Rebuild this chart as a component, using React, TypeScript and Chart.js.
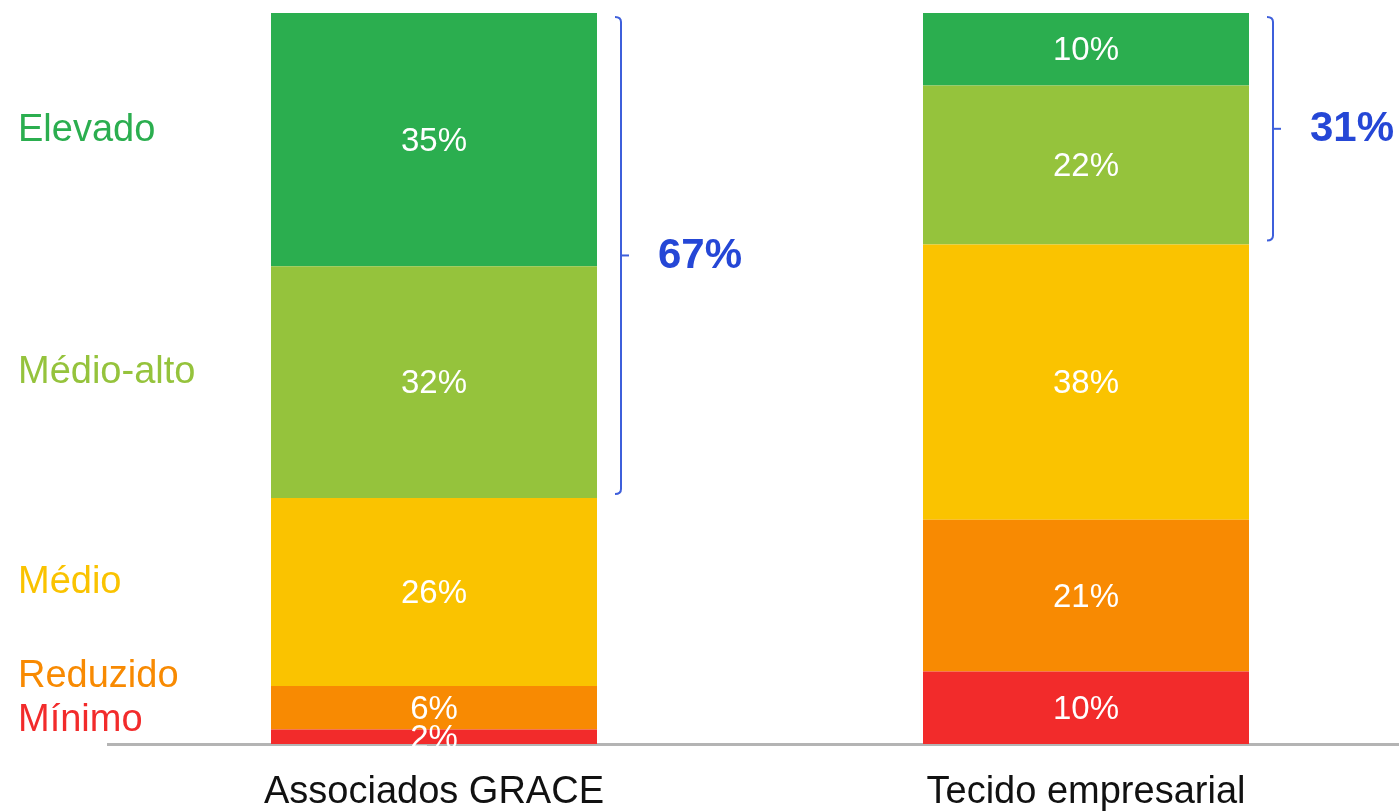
import { useEffect, useRef } from 'react';
import { Chart, registerables } from 'chart.js';

Chart.register(...registerables);

const categories = ['Associados GRACE', 'Tecido empresarial'];
const levelNames = ['Mínimo', 'Reduzido', 'Médio', 'Médio-alto', 'Elevado'];
const minimo = [2, 10];
const reduzido = [6, 21];
const medio = [26, 38];
const medioAlto = [32, 22];
const elevado = [35, 10];
const levelColors = ['#F22B2B', '#F88A02', '#FAC300', '#95C33C', '#2BAE4F'];
const bracketLabels = ['67%', '31%'];
const bracketFrom = [3, 3]; // dataset index where bracket begins (Médio-alto)

const FONT = '"Liberation Sans", Arial, sans-serif';

const overlayPlugin = {
  id: 'overlay',
  afterDatasetsDraw(chart: any) {
    const ctx = chart.ctx;
    ctx.save();
    ctx.fillStyle = '#ffffff';
    ctx.font = `33px ${FONT}`;
    ctx.textAlign = 'center';
    ctx.textBaseline = 'middle';
    chart.data.datasets.forEach((ds: any, i: number) => {
      const meta = chart.getDatasetMeta(i);
      meta.data.forEach((el: any, j: number) => {
        const v = ds.data[j];
        ctx.fillText(`${v}%`, el.x, (el.y + el.base) / 2 + 2);
      });
    });
    ctx.restore();
  },
  afterDraw(chart: any) {
    const ctx = chart.ctx;
    const yScale = chart.scales.y;
    ctx.save();
    ctx.font = `38px ${FONT}`;
    ctx.textAlign = 'left';
    ctx.textBaseline = 'middle';
    let prev = -Infinity;
    let cum = 0;
    chart.data.datasets.forEach((ds: any, i: number) => {
      const v = ds.data[0];
      const center = cum + v / 2;
      cum += v;
      const pos = Math.max(center + 1.3, prev + 6, 3.3);
      prev = pos;
      ctx.fillStyle = levelColors[i];
      ctx.fillText(levelNames[i], 18, yScale.getPixelForValue(pos));
    });

    ctx.strokeStyle = '#3E5FDB';
    ctx.lineWidth = 2;
    categories.forEach((_, j) => {
      const last = chart.data.datasets.length - 1;
      const topEl = chart.getDatasetMeta(last).data[j];
      const botEl = chart.getDatasetMeta(bracketFrom[j]).data[j];
      const x = topEl.x + topEl.width / 2 + 24;
      const top = topEl.y + 4;
      const bot = botEl.base - 4;
      const mid = (top + bot) / 2;
      const h = 5;
      ctx.beginPath();
      ctx.moveTo(x - h - 1, top);
      ctx.quadraticCurveTo(x, top, x, top + h);
      ctx.lineTo(x, bot - h);
      ctx.quadraticCurveTo(x, bot, x - h - 1, bot);
      ctx.stroke();
      ctx.beginPath();
      ctx.moveTo(x, mid);
      ctx.lineTo(x + 8, mid);
      ctx.stroke();
      ctx.fillStyle = '#2547D6';
      ctx.font = `bold 42px ${FONT}`;
      ctx.textAlign = 'left';
      ctx.textBaseline = 'middle';
      ctx.fillText(bracketLabels[j], x + 37, mid + 1);
    });
    ctx.restore();
  },
};

export default function App() {
  const ref = useRef<HTMLCanvasElement | null>(null);
  useEffect(() => {
    if (!ref.current) return;
    const series = [minimo, reduzido, medio, medioAlto, elevado];
    const chart = new Chart(ref.current, {
      type: 'bar',
      data: {
        labels: categories,
        datasets: series.map((d, i) => ({
          label: levelNames[i],
          data: d,
          backgroundColor: levelColors[i],
          borderWidth: 0,
          barPercentage: 0.5,
          categoryPercentage: 1,
        })),
      },
      options: {
        animation: false,
        responsive: true,
        maintainAspectRatio: false,
        layout: { padding: { top: 13, left: 108, right: 0, bottom: 0 } },
        plugins: { legend: { display: false }, tooltip: { enabled: false } },
        scales: {
          x: {
            stacked: true,
            grid: { display: false, drawTicks: false },
            border: { display: true, color: '#B4B4B4', width: 3 },
            ticks: {
              color: '#111111',
              font: { family: FONT, size: 38 },
              padding: 26,
            },
            afterFit: (scale: any) => {
              scale.height = 67;
            },
          },
          y: {
            stacked: true,
            display: false,
            min: 0,
            max: 101,
          },
        },
      },
      plugins: [overlayPlugin],
    });
    return () => chart.destroy();
  }, []);
  return (
    <div style={{ position: 'fixed', left: 0, top: 0, width: 1399, height: 811, overflow: 'hidden', background: '#fff' }}>
      <div style={{ position: 'relative', width: 1412, height: 811 }}>
        <canvas ref={ref} />
      </div>
    </div>
  );
}
